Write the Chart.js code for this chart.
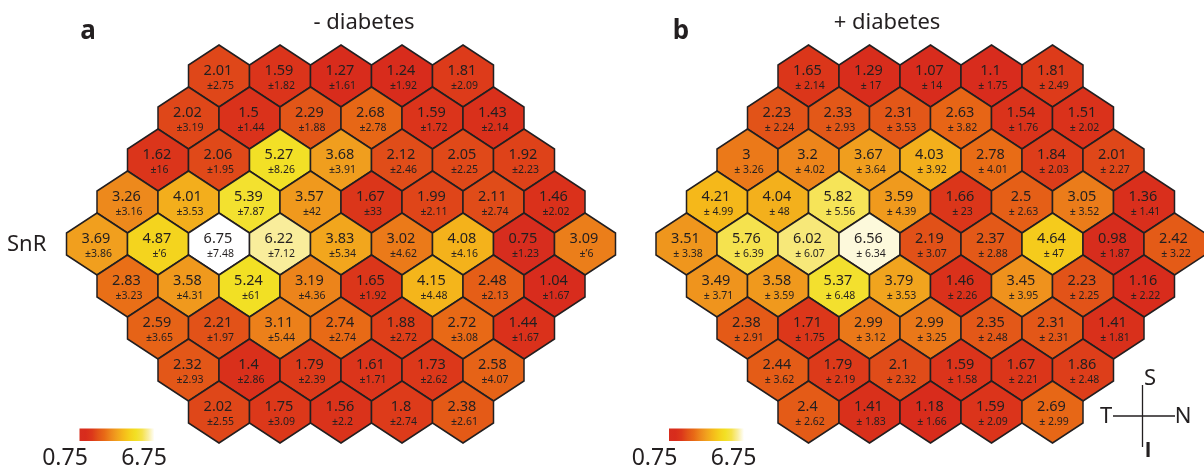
<html>
<head>
<title>SnR hexagon maps</title>
<script src="https://cdn.jsdelivr.net/npm/chart.js"></script>
<style>
  body { margin: 0; background: #fff; }
  #wrap { position: relative; width: 1204px; height: 469px; }
</style>
</head>
<body>
<div id="wrap"><canvas id="hexChart"></canvas></div>

<script>
// hexes per row, top to bottom
const rowSizes = [5, 6, 7, 8, 9, 8, 7, 6, 5]

// a: - diabetes
const snrNoDiabetes = [
  2.01, 1.59, 1.27, 1.24, 1.81,
  2.02, 1.5, 2.29, 2.68, 1.59, 1.43,
  1.62, 2.06, 5.27, 3.68, 2.12, 2.05, 1.92,
  3.26, 4.01, 5.39, 3.57, 1.67, 1.99, 2.11, 1.46,
  3.69, 4.87, 6.75, 6.22, 3.83, 3.02, 4.08, 0.75, 3.09,
  2.83, 3.58, 5.24, 3.19, 1.65, 4.15, 2.48, 1.04,
  2.59, 2.21, 3.11, 2.74, 1.88, 2.72, 1.44,
  2.32, 1.4, 1.79, 1.61, 1.73, 2.58,
  2.02, 1.75, 1.56, 1.8, 2.38
]
const sdNoDiabetes = [
  '2.75', '1.82', '1.61', '1.92', '2.09',
  '3.19', '1.44', '1.88', '2.78', '1.72', '2.14',
  '16', '1.95', '8.26', '3.91', '2.46', '2.25', '2.23',
  '3.16', '3.53', '7.87', '42', '33', '2.11', '2.74', '2.02',
  '3.86', '\u20196', '7.48', '7.12', '5.34', '4.62', '4.16', '1.23', '\u20196',
  '3.23', '4.31', '61', '4.36', '1.92', '4.48', '2.13', '1.67',
  '3.65', '1.97', '5.44', '2.74', '2.72', '3.08', '1.67',
  '2.93', '2.86', '2.39', '1.71', '2.62', '4.07',
  '2.55', '3.09', '2.2', '2.74', '2.61'
]

// b: + diabetes
const snrDiabetes = [
  1.65, 1.29, 1.07, 1.1, 1.81,
  2.23, 2.33, 2.31, 2.63, 1.54, 1.51,
  3, 3.2, 3.67, 4.03, 2.78, 1.84, 2.01,
  4.21, 4.04, 5.82, 3.59, 1.66, 2.5, 3.05, 1.36,
  3.51, 5.76, 6.02, 6.56, 2.19, 2.37, 4.64, 0.98, 2.42,
  3.49, 3.58, 5.37, 3.79, 1.46, 3.45, 2.23, 1.16,
  2.38, 1.71, 2.99, 2.99, 2.35, 2.31, 1.41,
  2.44, 1.79, 2.1, 1.59, 1.67, 1.86,
  2.4, 1.41, 1.18, 1.59, 2.69
]
const sdDiabetes = [
  '2.14', '17', '14', '1.75', '2.49',
  '2.24', '2.93', '3.53', '3.82', '1.76', '2.02',
  '3.26', '4.02', '3.64', '3.92', '4.01', '2.03', '2.27',
  '4.99', '48', '5.56', '4.39', '23', '2.63', '3.52', '1.41',
  '3.38', '6.39', '6.07', '6.34', '3.07', '2.88', '47', '1.87', '3.22',
  '3.71', '3.59', '6.48', '3.53', '2.26', '3.95', '2.25', '2.22',
  '2.91', '1.75', '3.12', '3.25', '2.48', '2.31', '1.81',
  '3.62', '2.19', '2.32', '1.58', '2.21', '2.48',
  '2.62', '1.83', '1.66', '2.09', '2.99'
]

const scaleMin = 0.75
const scaleMax = 6.75
const scaleLabels = ['0.75', '6.75']

// red -> orange -> yellow -> white
const cmapStops = [
  [0.75, [215, 45, 30]],
  [1.25, [216, 44, 28]],
  [1.75, [220, 56, 26]],
  [2.25, [226, 84, 24]],
  [2.75, [232, 106, 22]],
  [3.25, [237, 136, 28]],
  [3.75, [241, 162, 30]],
  [4.25, [245, 186, 26]],
  [4.75, [245, 208, 28]],
  [5.25, [242, 224, 36]],
  [5.75, [245, 226, 76]],
  [6.25, [249, 238, 160]],
  [6.75, [255, 255, 255]]
]

function colorFor(v) {
  if (v <= cmapStops[0][0]) return 'rgb(' + cmapStops[0][1].join(',') + ')'
  for (let i = 1; i < cmapStops.length; i++) {
    if (v <= cmapStops[i][0]) {
      let a = cmapStops[i - 1], b = cmapStops[i]
      let t = (v - a[0]) / (b[0] - a[0])
      let c = a[1].map((x, k) => Math.round(x + (b[1][k] - x) * t))
      return 'rgb(' + c.join(',') + ')'
    }
  }
  return 'rgb(255,255,255)'
}

// lay the values out on the hex grid (x in half-hex steps, y in rows)
function buildPoints(values, sds) {
  let pts = []
  let idx = 0
  for (let k = 0; k < rowSizes.length; k++) {
    let n = rowSizes[k]
    for (let j = 0; j < n; j++) {
      pts.push({ x: 2 * j + (9 - n), y: k, v: values[idx], sd: sds[idx] })
      idx++
    }
  }
  return pts
}

const ink = '#231f20'
const FONT = '"Noto Sans", "Open Sans", sans-serif'

const hexPlugin = {
  id: 'hexPlugin',
  afterDatasetsDraw(chart) {
    const ctx = chart.ctx
    const ys = chart.scales.y
    const rowH = Math.abs(ys.getPixelForValue(1) - ys.getPixelForValue(0))
    const tip = rowH * 31 / 42
    const shoulder = rowH * 11 / 42

    chart.data.datasets.forEach((ds, di) => {
      const meta = chart.getDatasetMeta(di)
      const xs = chart.scales[meta.xAxisID]
      const hw = xs.getPixelForValue(1) - xs.getPixelForValue(0)

      meta.data.forEach((el, i) => {
        const p = ds.data[i]
        const cx = el.x, cy = el.y
        ctx.save()
        ctx.beginPath()
        ctx.moveTo(cx, cy - tip)
        ctx.lineTo(cx + hw, cy - shoulder)
        ctx.lineTo(cx + hw, cy + shoulder)
        ctx.lineTo(cx, cy + tip)
        ctx.lineTo(cx - hw, cy + shoulder)
        ctx.lineTo(cx - hw, cy - shoulder)
        ctx.closePath()
        ctx.fillStyle = colorFor(p.v)
        ctx.fill()
        ctx.lineWidth = 1.5
        ctx.strokeStyle = ink
        ctx.lineJoin = 'miter'
        ctx.stroke()
        ctx.restore()
      })

      ctx.save()
      ctx.fillStyle = ink
      ctx.textAlign = 'center'
      ctx.textBaseline = 'middle'
      meta.data.forEach((el, i) => {
        const p = ds.data[i]
        ctx.font = '14.5px ' + FONT
        ctx.fillText(String(p.v), el.x - 1, el.y - 5)
        ctx.font = '10.5px ' + FONT
        ctx.fillText(ds.sdPrefix + p.sd, el.x + 1.5, el.y + 10)
      })
      ctx.restore()
    })
  },
  afterDraw(chart) {
    const ctx = chart.ctx
    ctx.save()
    ctx.fillStyle = ink
    ctx.textBaseline = 'alphabetic'

    // panel letters
    ctx.font = 'bold 26px ' + FONT
    ctx.textAlign = 'center'
    ctx.fillText('a', 88, 39)
    ctx.fillText('b', 681, 39)

    // panel titles
    ctx.font = '22px ' + FONT
    ctx.fillText('- diabetes', 364, 29)
    ctx.fillText('+ diabetes', 887, 29)

    // row label
    ctx.textAlign = 'left'
    ctx.fillText('SnR', 7, 251)

    // colour bars
    ;[0, 589.5].forEach(off => {
      const x0 = 79.5 + off, x1 = 154.5 + off
      const g = ctx.createLinearGradient(x0, 0, x1, 0)
      cmapStops.forEach(s => {
        g.addColorStop((s[0] - scaleMin) / (scaleMax - scaleMin), 'rgb(' + s[1].join(',') + ')')
      })
      ctx.fillStyle = g
      ctx.fillRect(x0, 428.5, x1 - x0, 12.5)
      ctx.fillStyle = ink
      ctx.font = '23px ' + FONT
      ctx.textAlign = 'center'
      ctx.fillText(scaleLabels[0], 65 + off, 465)
      ctx.fillText(scaleLabels[1], 144 + off, 465)
    })

    // orientation cross
    const ox = 1142.5, oy = 416
    ctx.strokeStyle = ink
    ctx.lineWidth = 1.3
    ctx.beginPath()
    ctx.moveTo(ox, 385)
    ctx.lineTo(ox, 447)
    ctx.moveTo(1113, oy)
    ctx.lineTo(1175, oy)
    ctx.stroke()
    ctx.font = '22px ' + FONT
    ctx.textBaseline = 'middle'
    ctx.textAlign = 'center'
    ctx.fillText('S', 1150, 379)
    ctx.fillText('T', 1106, 417)
    ctx.fillText('N', 1183, 417)
    ctx.font = 'bold 22px "Liberation Sans", "DejaVu Sans", sans-serif'
    ctx.fillText('I', 1148, 451)
    ctx.restore()
  }
}

new Chart(document.getElementById('hexChart'), {
  type: 'scatter',
  data: {
    datasets: [
      {
        label: '- diabetes',
        data: buildPoints(snrNoDiabetes, sdNoDiabetes),
        xAxisID: 'xA',
        sdPrefix: '\u00b1',
        pointRadius: 0
      },
      {
        label: '+ diabetes',
        data: buildPoints(snrDiabetes, sdDiabetes),
        xAxisID: 'xB',
        sdPrefix: '\u00b1 ',
        pointRadius: 0
      }
    ]
  },
  options: {
    responsive: true,
    maintainAspectRatio: false,
    animation: false,
    layout: { padding: 0 },
    plugins: {
      legend: { display: false },
      tooltip: { enabled: false }
    },
    scales: {
      xA: { type: 'linear', display: false, min: -97 / 30.5, max: (1204 - 97) / 30.5 },
      xB: { type: 'linear', display: false, min: -686.5 / 30.5, max: (1204 - 686.5) / 30.5 },
      y: { type: 'linear', display: false, reverse: true, min: -76 / 42, max: (469 - 76) / 42 }
    }
  },
  plugins: [hexPlugin]
})
</script>
</body>
</html>
